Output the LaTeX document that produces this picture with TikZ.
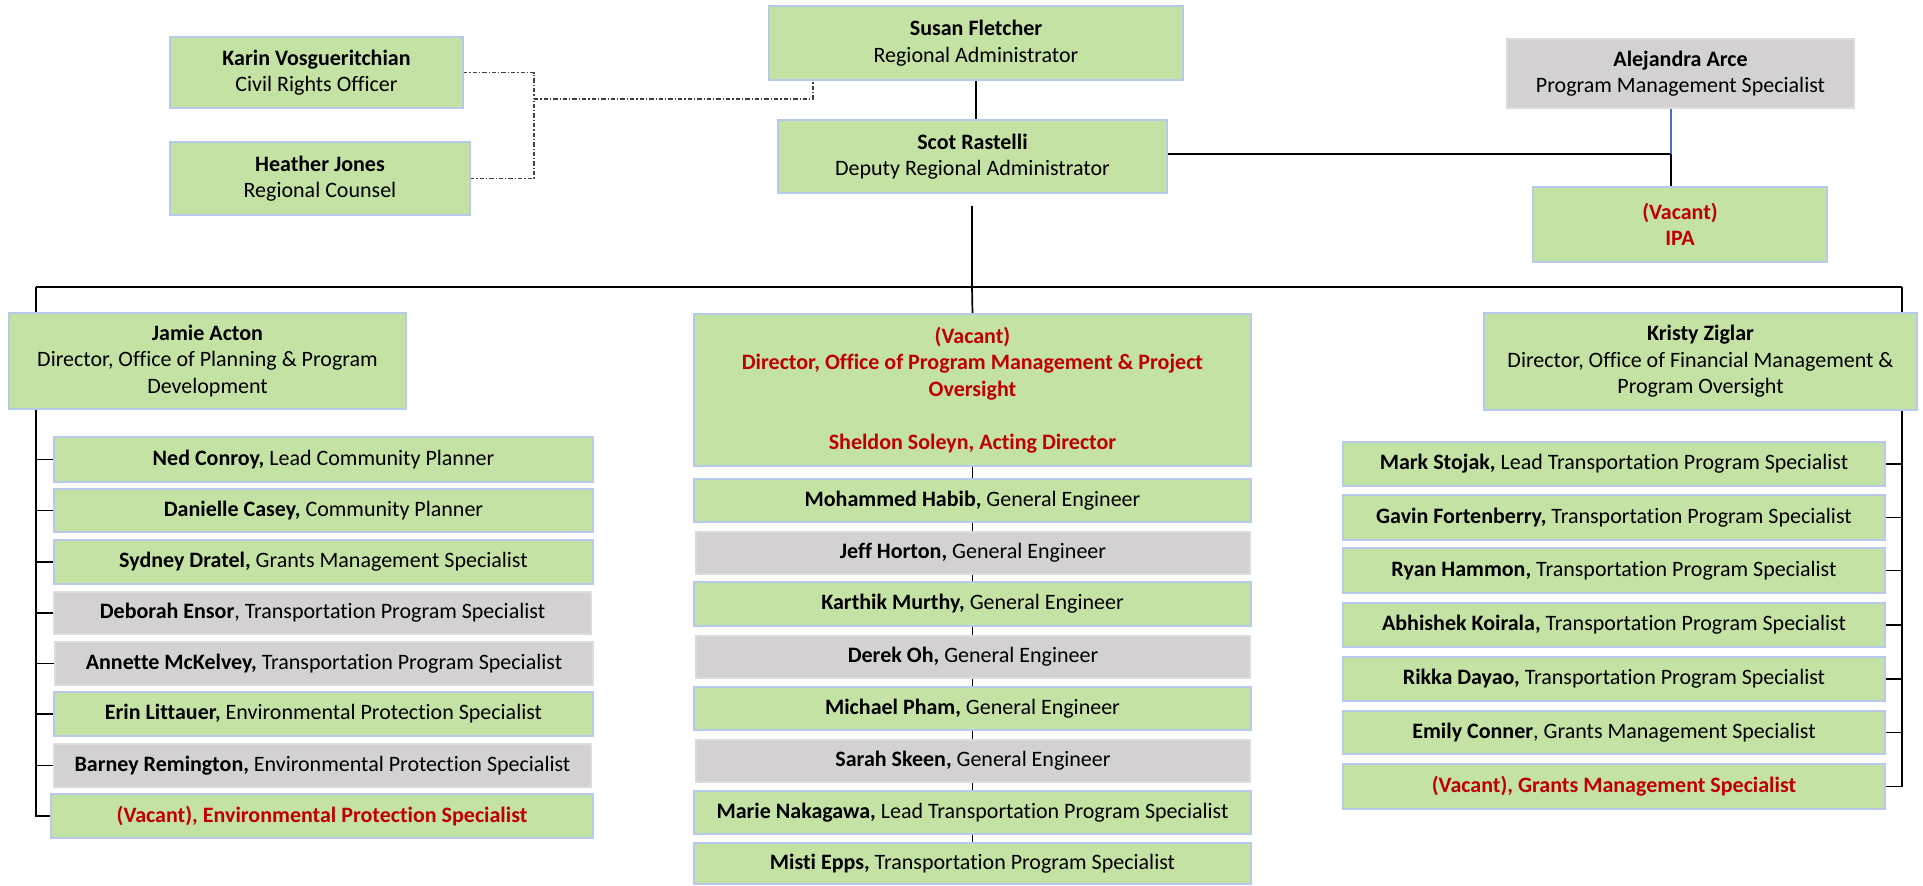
\documentclass[tikz,border=0pt]{standalone}
\usepackage{fontspec}
\setmainfont[Ligatures=NoCommon]{Carlito}
\usetikzlibrary{backgrounds}
\definecolor{boxgreen}{HTML}{C5E2A5}
\definecolor{boxgray}{HTML}{D3D1D2}
\definecolor{edgeblue}{HTML}{B8C9E9}
\definecolor{edgegray}{HTML}{DDDBDC}
\definecolor{vacred}{HTML}{C00000}
\definecolor{linkblue}{HTML}{4472C4}
\newcommand\mybox[7]{%
  \pgfmathsetmacro\bxcx{(#3+#5)/2}%
  \pgfmathsetmacro\bxcy{(#4+#6)/2}%
  \pgfmathsetmacro\bxw{(#5-#3)*0.5}%
  \pgfmathsetmacro\bxh{(#6-#4)*0.5}%
  \node[#2, minimum width=\bxw pt, minimum height=\bxh pt] (#1) at (\bxcx,\bxcy) {#7};}
\tikzset{
  gbox/.style={fill=boxgreen, draw=edgeblue, line width=0.6pt, inner sep=0pt, outer sep=0pt, align=center, font=\fontsize{11}{13.2}\selectfont},
  ybox/.style={fill=boxgray, draw=edgegray, line width=0.6pt, inner sep=0pt, outer sep=0pt, align=center, font=\fontsize{11}{13.2}\selectfont},
  conn/.style={draw=black, line width=0.85pt},
  dd/.style={draw=black!75, line width=0.55pt, dash pattern=on 2.2pt off 1pt on 0.6pt off 1pt},
}
\newcommand\vac[1]{\textcolor{vacred}{\textbf{#1}}}
\begin{document}
\begin{tikzpicture}[x=0.5pt,y=-0.5pt]
\useasboundingbox (0,0) rectangle (1923,885);
% top
\mybox{Susan}{gbox}{769}{6}{1183}{80}{\textbf{Susan Fletcher}\\Regional Administrator}
\mybox{Scot}{gbox}{778}{120}{1167}{193}{\textbf{Scot Rastelli}\\Deputy Regional Administrator}
\mybox{Karin}{gbox}{170}{37}{463}{108}{\textbf{Karin Vosgueritchian}\\Civil Rights Officer}
\mybox{Heather}{gbox}{170}{142}{470}{215}{\textbf{Heather Jones}\\Regional Counsel}
\mybox{Alejandra}{ybox}{1507}{39}{1854}{108}{\textbf{Alejandra Arce}\\Program Management Specialist}
\mybox{IPA}{gbox}{1533}{187}{1827}{262}{\vac{(Vacant)}\\\vac{IPA}}
% directors
\mybox{Jamie}{gbox}{9}{313}{406}{409}{\textbf{Jamie Acton}\\Director, Office of Planning \& Program\\Development}
\mybox{PM}{gbox}{694}{314}{1251}{466}{\vac{(Vacant)}\\\vac{Director, Office of Program Management \& Project}\\\vac{Oversight}\\[13.2pt]\vac{Sheldon Soleyn, Acting Director}}
\mybox{Kristy}{gbox}{1484}{313}{1917}{410}{\textbf{Kristy Ziglar}\\Director, Office of Financial Management \&\\Program Oversight}
% left column
\mybox{Ned}{gbox}{54}{437}{593}{482}{\textbf{Ned Conroy,} Lead Community Planner}
\mybox{Danielle}{gbox}{54}{489}{593}{532}{\textbf{Danielle Casey,} Community Planner}
\mybox{Sydney}{gbox}{54}{540}{593}{584}{\textbf{Sydney Dratel,} Grants Management Specialist}
\mybox{Deborah}{ybox}{54}{592}{591}{634}{\textbf{Deborah Ensor}, Transportation Program Specialist}
\mybox{Annette}{ybox}{55}{642}{593}{685}{\textbf{Annette McKelvey,} Transportation Program Specialist}
\mybox{Erin}{gbox}{54}{692}{593}{736}{\textbf{Erin Littauer,} Environmental Protection Specialist}
\mybox{Barney}{ybox}{54}{744}{591}{787}{\textbf{Barney Remington,} Environmental Protection Specialist}
\mybox{VacL}{gbox}{51}{794}{593}{838}{\vac{(Vacant), Environmental Protection Specialist}}
% centre column
\mybox{Mohammed}{gbox}{694}{479}{1251}{522}{\textbf{Mohammed Habib,} General Engineer}
\mybox{Jeff}{ybox}{696}{532}{1250}{574}{\textbf{Jeff Horton,} General Engineer}
\mybox{Karthik}{gbox}{694}{582}{1251}{626}{\textbf{Karthik Murthy,} General Engineer}
\mybox{Derek}{ybox}{696}{636}{1250}{678}{\textbf{Derek Oh,} General Engineer}
\mybox{Michael}{gbox}{694}{687}{1251}{730}{\textbf{Michael Pham,} General Engineer}
\mybox{Sarah}{ybox}{696}{740}{1250}{782}{\textbf{Sarah Skeen,} General Engineer}
\mybox{Marie}{gbox}{694}{791}{1251}{834}{\textbf{Marie Nakagawa,} Lead Transportation Program Specialist}
\mybox{Misti}{gbox}{694}{843}{1251}{884}{\textbf{Misti Epps,} Transportation Program Specialist}
% right column
\mybox{Mark}{gbox}{1343}{442}{1885}{486}{\textbf{Mark Stojak,} Lead Transportation Program Specialist}
\mybox{Gavin}{gbox}{1343}{495}{1885}{540}{\textbf{Gavin Fortenberry,} Transportation Program Specialist}
\mybox{Ryan}{gbox}{1343}{548}{1885}{593}{\textbf{Ryan Hammon,} Transportation Program Specialist}
\mybox{Abhishek}{gbox}{1343}{603}{1885}{647}{\textbf{Abhishek Koirala,} Transportation Program Specialist}
\mybox{Rikka}{gbox}{1343}{657}{1885}{701}{\textbf{Rikka Dayao,} Transportation Program Specialist}
\mybox{Emily}{gbox}{1343}{711}{1885}{754}{\textbf{Emily Conner}, Grants Management Specialist}
\mybox{VacR}{gbox}{1343}{764}{1885}{809}{\vac{(Vacant), Grants Management Specialist}}
% junction coordinates
\coordinate (LV) at (36,287);
\coordinate (RV) at (1902,287);
\coordinate (CT) at (972,287);
\coordinate (ScB) at (972,206);
\coordinate (IJ) at (1671,154);
\coordinate (DJ) at (534,99);
\coordinate (DS) at (813,80);
\begin{scope}[on background layer]
  % dotted advisory links
  \draw[dd] (Karin.east) -| (DJ);
  \draw[dd] (Heather.east) -| (DJ);
  \draw[dd] (DJ) -| (DS);
  % main hierarchy
  \draw[conn] (Susan.south) -- (Susan.south |- Scot.north);
  \draw[conn] (Scot.east |- IJ) -- (IJ);
  \draw[conn, draw=linkblue] (Alejandra.south -| IJ) -- (IJ);
  \draw[conn] (IJ) -- (IJ |- IPA.north);
  \draw[conn] (ScB) -- (CT);
  \draw[conn] (LV) -- (RV);
  \draw[conn] (CT) -- (PM.north);
  \draw[conn] (PM.south) -- (Misti.north);
  \draw[conn] (LV) |- (VacL.west);
  \draw[conn] (RV) |- (VacR.east);
  \foreach \n in {Ned,Danielle,Sydney,Deborah,Annette,Erin,Barney}
    \draw[conn] (\n.west) -- (\n.west -| LV);
  \foreach \n in {Mark,Gavin,Ryan,Abhishek,Rikka,Emily}
    \draw[conn] (\n.east) -- (\n.east -| RV);
\end{scope}
\end{tikzpicture}
\end{document}
